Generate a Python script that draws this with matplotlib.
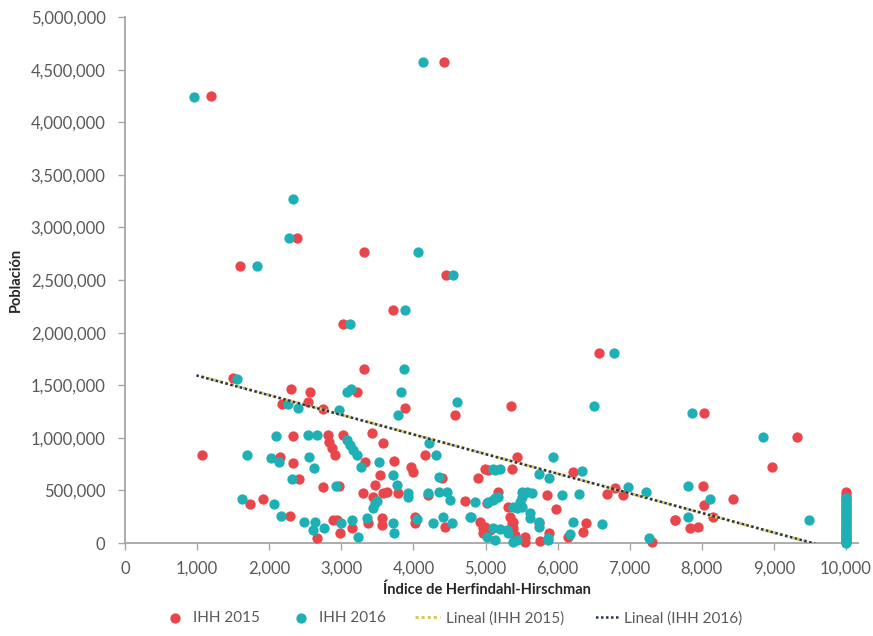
import matplotlib
matplotlib.use("Agg")
import matplotlib.pyplot as plt
from matplotlib.ticker import FuncFormatter, MultipleLocator

# IHH 2015: indice y poblacion (miles de habitantes)
ihh_2015 = [1190, 4420, 2380, 3310, 1595, 4447, 3721, 3019, 3310, 1500,
            6570, 5354, 8026, 9325, 8969, 8012, 8428, 8031, 8160, 7628,
            7836, 7952, 7305, 2298, 2566, 2534, 2173, 2741, 3222, 3883,
            4577, 1063, 2334, 2820, 3019, 2833, 2867, 2913, 3421, 3574,
            2150, 2325, 2413, 2741, 2972, 1734, 1910, 2288, 3329, 3537,
            3735, 3962, 3999, 3305, 3435, 3574, 3638, 3791, 4161, 4393,
            4900, 5039, 5177, 5016, 4716, 4207, 3467, 2889, 2945, 2667,
            2982, 3144, 3375, 3560, 3560, 4022, 4022, 4438, 4924, 4970,
            5062, 4993, 4970, 5409, 5548, 5340, 5386, 5386, 5747, 5885,
            5756, 5548, 5978, 5849, 6394, 6348, 6148, 6218, 6796, 6681,
            6903, 5363, 4993, 5441, 5316, 5363, 7633]
pob_2015 = [4250, 4575, 2896, 2763, 2633, 2551, 2215, 2079, 1651, 1566,
            1803, 1299, 1239, 1011, 720, 542, 418, 361, 250, 219,
            140, 155, 12, 1461, 1432, 1343, 1318, 1274, 1438, 1280,
            1217, 837, 1020, 1027, 1027, 963, 900, 837, 1043, 954,
            820, 758, 608, 535, 542, 368, 415, 257, 773, 646,
            782, 720, 678, 472, 440, 472, 488, 472, 837, 615,
            621, 694, 482, 377, 402, 456, 551, 219, 219, 45,
            92, 140, 187, 235, 171, 250, 187, 155, 202, 140,
            124, 155, 98, 76, 60, 250, 202, 140, 187, 92,
            19, 10, 320, 456, 187, 107, 60, 678, 520, 466,
            456, 700, 703, 820, 345, 193, 222]

# IHH 2016
ihh_2016 = [957, 4129, 2335, 2270, 4059, 1826, 4554, 3883, 3125, 3870,
            1549, 6778, 6500, 4600, 7860, 8845, 7804, 7226, 8118, 7804,
            9491, 7268, 2256, 2404, 2972, 3075, 3130, 3824, 3782, 2094,
            2543, 2659, 3075, 3121, 3167, 3213, 4221, 4313, 1688, 2021,
            2136, 2548, 2626, 2312, 2926, 1618, 2067, 2160, 3527, 3273,
            3722, 3777, 3467, 3500, 3444, 3930, 3930, 4207, 4360, 4461,
            4508, 4360, 4854, 5039, 5132, 5132, 4785, 2612, 2483, 2635,
            2764, 2991, 3144, 3236, 3352, 3713, 3731, 4045, 4276, 4415,
            4540, 5016, 5132, 5108, 5201, 5294, 5316, 5432, 5386, 5617,
            5617, 5502, 5571, 5641, 5502, 5478, 5386, 5432, 5502, 5742,
            5742, 5871, 5860, 5108, 5201, 5742, 5876, 6334, 6972, 5108,
            5177, 6065, 6297, 5932, 6209, 6620, 6172, 4794]
pob_2016 = [4242, 4575, 3273, 2896, 2763, 2633, 2551, 2215, 2079, 1651,
            1556, 1803, 1299, 1343, 1239, 1011, 542, 485, 418, 250,
            222, 45, 1318, 1280, 1264, 1438, 1461, 1438, 1217, 1020,
            1027, 1027, 979, 932, 884, 837, 954, 837, 837, 805,
            767, 814, 710, 608, 542, 415, 368, 257, 773, 720,
            646, 551, 377, 402, 330, 472, 440, 472, 488, 488,
            409, 625, 393, 393, 425, 694, 250, 124, 202, 202,
            145, 187, 219, 54, 240, 193, 92, 225, 187, 250,
            187, 60, 29, 140, 130, 124, 92, 29, 12, 282,
            235, 488, 488, 478, 440, 393, 345, 330, 345, 202,
            155, 45, 25, 700, 700, 653, 621, 684, 529, 409,
            440, 456, 466, 820, 202, 181, 83, 250]

# municipios con IHH = 10,000 (monopolio)
pob_monopolio_2015 = [488, 455, 425, 395, 365, 335, 305, 275, 245, 215,
                      185, 155, 125, 95, 65, 35, 10]
pob_monopolio_2016 = [430, 405, 380, 350, 320, 290, 260, 230, 200, 170,
                      140, 110, 85, 60, 35, 15, 3]

# lineas de tendencia lineal (pendiente, ordenada)
tendencia_2015 = (-187.0, 1781000.0)
tendencia_2016 = (-186.5, 1778000.0)

rojo = "#E9464B"
turquesa = "#1FB0B6"
gris = "#595959"

plt.rcParams["font.family"] = ["Lato", "DejaVu Sans"]

fig = plt.figure(figsize=(8.73, 6.36), dpi=100)
ax = fig.add_axes([0.1432, 0.1462, 0.8259, 0.8270])

x15 = ihh_2015 + [10000] * len(pob_monopolio_2015)
y15 = [v * 1000 for v in pob_2015 + pob_monopolio_2015]
x16 = ihh_2016 + [10000] * len(pob_monopolio_2016)
y16 = [v * 1000 for v in pob_2016 + pob_monopolio_2016]

ax.scatter(x15, y15, s=55, color=rojo, linewidths=0, zorder=3,
           clip_on=False, label="IHH 2015")
ax.scatter(x16, y16, s=55, color=turquesa, linewidths=0, zorder=4,
           clip_on=False, label="IHH 2016")

for datos_x, (m, b), color, estilo, ancho, etiqueta in [
        (ihh_2015, tendencia_2015, "#D6C95A", (0, (1, 1)), 2.2, "Lineal (IHH 2015)"),
        (ihh_2016, tendencia_2016, "#2A3550", (1, (1, 1)), 1.8, "Lineal (IHH 2016)")]:
    xs = [min(datos_x), 10000]
    ys = [m * v + b for v in xs]
    ax.plot(xs, ys, color=color, linestyle=estilo, linewidth=ancho,
            zorder=5, label=etiqueta)

ax.set_xlim(0, 10000)
ax.set_ylim(0, 5000000)
ax.xaxis.set_major_locator(MultipleLocator(1000))
ax.yaxis.set_major_locator(MultipleLocator(500000))
miles = FuncFormatter(lambda v, p: f"{int(v):,}")
ax.xaxis.set_major_formatter(miles)
ax.yaxis.set_major_formatter(miles)

for lado in ["top", "right"]:
    ax.spines[lado].set_visible(False)
for lado in ["left", "bottom"]:
    ax.spines[lado].set_color("#A6A6A6")
    ax.spines[lado].set_linewidth(1.3)
ax.spines["bottom"].set_bounds(0, 10160)

ax.tick_params(axis="both", direction="out", length=5, width=1,
               color="#A6A6A6", labelcolor=gris, labelsize=12)
ax.tick_params(axis="y", pad=9)
ax.tick_params(axis="x", pad=8)

ax.set_xlabel("Índice de Herfindahl-Hirschman", fontsize=10.5,
              fontweight="bold", color="#262626")
ax.set_ylabel("Población", fontsize=10.5, fontweight="bold", color="#262626")
ax.xaxis.set_label_coords(0.502, -0.075)
ax.yaxis.set_label_coords(-0.142, 0.5)

fig.legend(loc="lower center", bbox_to_anchor=(0.518, -0.005), ncol=4,
           frameon=False, fontsize=11, labelcolor=gris, handlelength=1.6,
           handletextpad=0.4, columnspacing=1.9, markerscale=1.0)

fig.savefig("out.png", dpi=100)
